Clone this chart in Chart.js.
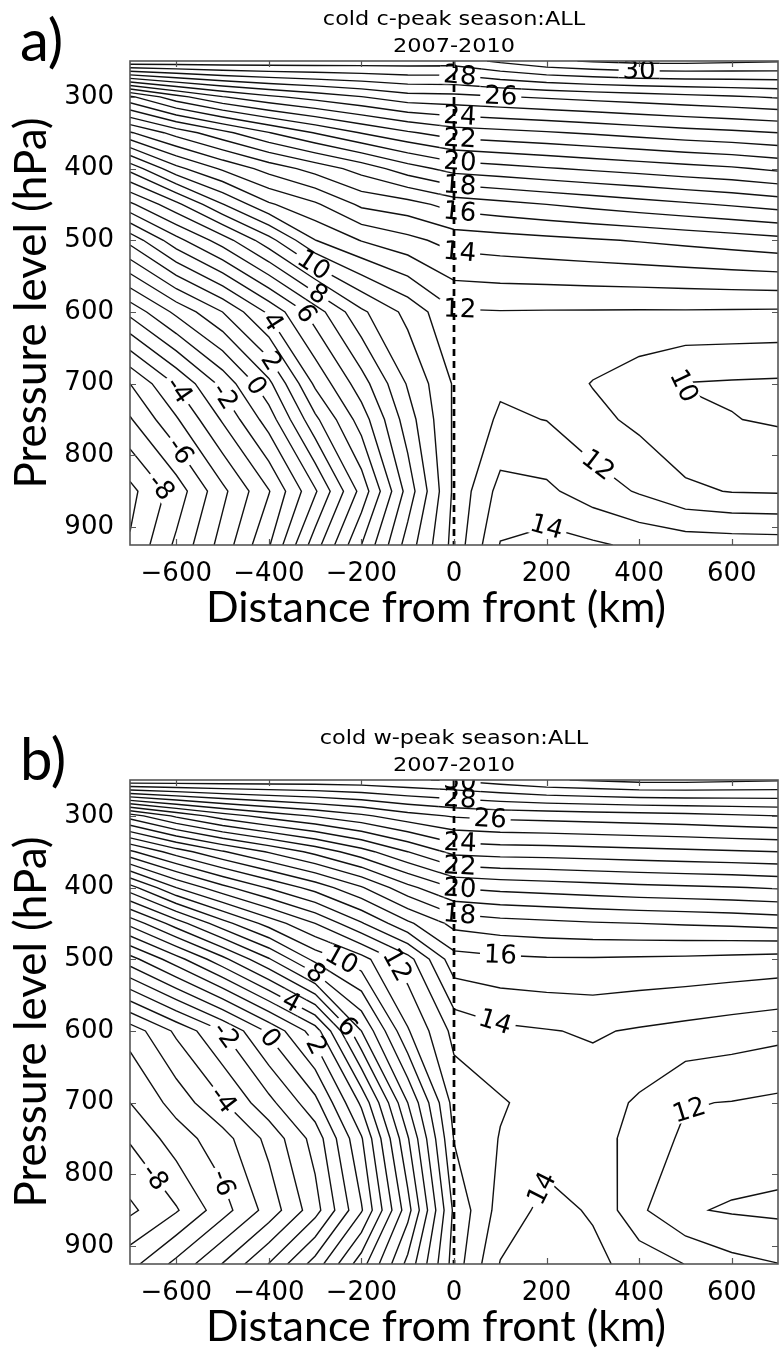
<!DOCTYPE html>
<html>
<head>
<meta charset="utf-8">
<script src="https://cdn.jsdelivr.net/npm/chart.js@4.4.1/dist/chart.umd.min.js"></script>
<style>
  html, body { margin: 0; padding: 0; background: #fff; }
  body { width: 784px; height: 1349px; position: relative; overflow: hidden; }
  .panel { position: absolute; left: 0; width: 784px; height: 700px; }
  #panelA { top: 0; }
  #panelB { top: 719px; }
</style>
</head>
<body>
<div class="panel" id="panelA"><canvas id="chartA" width="784" height="700"></canvas></div>
<div class="panel" id="panelB"><canvas id="chartB" width="784" height="700"></canvas></div>
<script>
// composite grid: distance from the front (km) and pressure levels (hPa)
const distanceKm = [-700, -600, -500, -400, -300, -200, -100, 0, 100, 200, 300, 400, 500, 600, 700];
const pressureHpa = [250, 300, 350, 400, 450, 500, 600, 700, 750, 850, 925];
const frontKm = 0;

// contour levels every 1 degree, labelled every 2
const contourLevels = [];
for (let v = -12; v <= 34; v++) contourLevels.push(v);

const xTickValues = [-600, -400, -200, 0, 200, 400, 600];
const yTickValues = [300, 400, 500, 600, 700, 800, 900];

// cold c-peak composite, one row per pressure level
const fieldA = [
  [29.9, 29.8, 29.75, 29.7, 29.65, 29.6, 29.55, 29.5, 30.2, 30.8, 31.1, 31.3, 31.3, 31.2, 31.1],
  [19.8, 21.65, 22.95, 23.8, 24.4, 24.97, 25.6, 25.7, 25.93, 26.14, 26.34, 26.52, 26.71, 26.89, 27.1],
  [14.9, 16.4, 17.7, 18.96, 20.05, 21.05, 21.86, 22.5, 22.7, 22.9, 23.13, 23.38, 23.61, 23.79, 24.0],
  [10.33, 12.7, 14.16, 15.4, 16.4, 17.4, 18.55, 19.4, 19.65, 19.92, 20.17, 20.4, 20.65, 20.86, 21.2],
  [6.78, 8.73, 10.95, 12.86, 13.84, 15.2, 15.6, 16.4, 16.7, 17.0, 17.29, 17.57, 17.84, 18.11, 18.4],
  [3.33, 5.65, 7.5, 9.63, 11.98, 13.05, 13.7, 14.4, 14.57, 14.73, 14.9, 15.07, 15.27, 15.48, 15.7],
  [-1.7, 0.25, 2.0, 4.2, 6.5, 8.8, 10.3, 11.9, 11.95, 11.93, 11.92, 11.9, 11.9, 11.88, 11.85],
  [-6.0, -3.9, -1.7, 0.75, 4.2, 6.55, 9.1, 11.1, 11.85, 11.6, 10.95, 10.45, 9.97, 9.9, 9.85],
  [-7.1, -5.12, -2.88, -0.52, 2.76, 5.48, 8.53, 11.15, 12.15, 11.98, 11.3, 10.75, 10.15, 10.03, 9.9],
  [-9.3, -7.55, -5.25, -3.06, -0.13, 3.35, 7.4, 11.2, 13.35, 13.2, 12.5, 11.9, 11.2, 10.95, 10.9],
  [-8.9, -6.8, -4.6, -2.1, 1.55, 5.0, 8.45, 11.35, 14.05, 14.4, 14.15, 13.8, 13.6, 13.55, 13.5]
];

// cold w-peak composite
const fieldB = [
  [29.9, 29.8, 29.75, 29.7, 29.65, 29.7, 29.9, 30.1, 30.5, 30.9, 31.1, 31.3, 31.3, 31.2, 31.1],
  [19.5, 21.2, 22.5, 23.4, 24.1, 24.8, 25.6, 26.1, 26.3, 26.4, 26.5, 26.6, 26.7, 26.85, 27.0],
  [13.8, 15.5, 16.9, 18.1, 19.3, 20.6, 22.0, 23.3, 23.45, 23.5, 23.6, 23.7, 23.8, 23.9, 24.0],
  [8.6, 11.0, 12.7, 14.1, 15.4, 16.9, 18.7, 20.05, 20.3, 20.45, 20.6, 20.75, 20.85, 20.95, 21.1],
  [4.3, 6.5, 8.6, 10.4, 12.0, 13.9, 15.8, 17.3, 17.6, 17.75, 17.9, 18.0, 18.1, 18.2, 18.35],
  [0.6, 2.6, 4.7, 6.9, 9.3, 10.6, 12.6, 15.6, 15.8, 15.9, 15.9, 15.85, 15.8, 15.7, 15.6],
  [-5.6, -3.8, -2.0, 0.2, 2.5, 7.0, 10.9, 13.3, 13.8, 13.95, 14.1, 13.9, 13.7, 13.5, 13.3],
  [-7.0, -5.6, -4.1, -2.3, -0.3, 3.2, 8.0, 12.4, 12.9, 13.4, 13.5, 12.85, 12.05, 11.97, 11.8],
  [-7.9, -6.5, -5.4, -3.7, -1.6, 1.9, 6.9, 12.05, 13.05, 13.6, 13.55, 12.5, 11.85, 11.6, 11.5],
  [-9.2, -8.1, -6.4, -4.6, -2.4, 0.9, 5.6, 11.2, 13.4, 14.3, 13.9, 12.2, 11.1, 10.9, 10.8],
  [-7.35, -5.72, -3.96, -1.96, 0.42, 3.57, 7.3, 11.44, 14.05, 14.6, 14.25, 13.62, 12.98, 12.3, 12.02]
];

// inline label anchors: [level, km, hPa]
const labelSpotsA = [
  [30, 400, 265], [28, 13, 268], [26, 101, 300], [24, 13, 325], [22, 13, 358], [20, 13, 390],
  [18, 13, 422], [16, 13, 457], [14, 13, 511], [12, 13, 588],
  [10, -290, 522], [8, -289, 571], [6, -322, 603], [4, -395, 615], [2, -393, 668], [0, -421, 700],
  [-2, -501, 720], [-4, -596, 710], [-6, -596, 796], [-8, -646, 851],
  [10, 490, 705], [12, 307, 817], [14, 200, 897]
];
const labelSpotsB = [
  [30, 13, 253], [28, 13, 272], [26, 78, 304], [24, 13, 339], [22, 13, 368], [20, 13, 399],
  [18, 13, 432], [16, 100, 499], [14, 95, 575], [12, -117, 506], [10, -235, 492], [8, -298, 519],
  [6, -229, 593], [4, -376, 589], [2, -294, 619], [0, -397, 610], [-2, -495, 607], [-4, -484, 689],
  [-6, -495, 811], [-8, -646, 804], [14, 197, 822], [12, 505, 704]
];

// marching squares over the grid, one level at a time
function contourSegments(field, level) {
  const segs = [];
  const cross = (key, x0, y0, v0, x1, y1, v1) => {
    const t = (level - v0) / (v1 - v0);
    return { key, x: x0 + t * (x1 - x0), y: y0 + t * (y1 - y0) };
  };
  for (let i = 0; i < pressureHpa.length - 1; i++) {
    for (let j = 0; j < distanceKm.length - 1; j++) {
      const xa = distanceKm[j], xb = distanceKm[j + 1];
      const ya = pressureHpa[i], yb = pressureHpa[i + 1];
      const A = field[i][j], B = field[i][j + 1], C = field[i + 1][j + 1], D = field[i + 1][j];
      const up = [A, B, C, D].map(v => v >= level);
      const e = [null, null, null, null];
      if (up[0] !== up[1]) e[0] = cross('h' + i + '_' + j, xa, ya, A, xb, ya, B);
      if (up[1] !== up[2]) e[1] = cross('v' + i + '_' + (j + 1), xb, ya, B, xb, yb, C);
      if (up[2] !== up[3]) e[2] = cross('h' + (i + 1) + '_' + j, xb, yb, C, xa, yb, D);
      if (up[3] !== up[0]) e[3] = cross('v' + i + '_' + j, xa, yb, D, xa, ya, A);
      const hit = e.filter(Boolean);
      if (hit.length === 2) {
        segs.push(hit);
      } else if (hit.length === 4) {
        const centreUp = (A + B + C + D) / 4 >= level;
        if (centreUp === up[0]) { segs.push([e[0], e[1]], [e[2], e[3]]); }
        else { segs.push([e[3], e[0]], [e[1], e[2]]); }
      }
    }
  }
  return segs;
}

// join cell segments into polylines through shared edge crossings
function joinSegments(segs) {
  const byKey = new Map();
  segs.forEach((s, k) => s.forEach(p => {
    if (!byKey.has(p.key)) byKey.set(p.key, []);
    byKey.get(p.key).push(k);
  }));
  const used = new Array(segs.length).fill(false);
  const extend = (line, key) => {
    for (;;) {
      const next = (byKey.get(key) || []).find(k => !used[k]);
      if (next === undefined) return;
      used[next] = true;
      const other = segs[next][0].key === key ? segs[next][1] : segs[next][0];
      line.push(other);
      key = other.key;
    }
  };
  const lines = [];
  segs.forEach((s, k) => {
    if (used[k]) return;
    used[k] = true;
    const fwd = [s[0], s[1]];
    extend(fwd, s[1].key);
    const back = [];
    extend(back, s[0].key);
    lines.push(back.reverse().concat(fwd));
  });
  return lines;
}

function contourDatasets(field) {
  const sets = [];
  contourLevels.forEach(level => {
    const lines = joinSegments(contourSegments(field, level));
    if (!lines.length) return;
    const data = [];
    lines.forEach(line => {
      line.forEach(p => data.push({ x: p.x, y: p.y }));
      data.push({ x: line[line.length - 1].x, y: null });
    });
    sets.push({
      level, data, showLine: true, spanGaps: false,
      borderColor: '#111', borderWidth: 1.4, pointRadius: 0, fill: false
    });
  });
  sets.push({
    level: null, front: true,
    data: [{ x: frontKm, y: pressureHpa[0] }, { x: frontKm, y: pressureHpa[pressureHpa.length - 1] }],
    showLine: true, borderColor: '#000', borderWidth: 2.4, borderDash: [7, 5], pointRadius: 0
  });
  return sets;
}

const minusFmt = v => (v < 0 ? '\u2212' + Math.abs(v) : String(v));

// inline contour labels, frame, inward ticks and the annotation text
const contourDecor = {
  id: 'contourDecor',
  afterDatasetsDraw(chart, args, opts) {
    const { ctx, chartArea: area, scales: { x, y } } = chart;
    const metas = chart.data.datasets.map((d, i) => chart.getDatasetMeta(i));
    const frontIdx = chart.data.datasets.findIndex(d => d.front);
    ctx.save();
    ctx.beginPath();
    ctx.rect(area.left, area.top, area.width, area.height);
    ctx.clip();
    ctx.font = '26px "DejaVu Sans"';
    opts.spots.forEach(([value, km, hpa]) => {
      const idx = chart.data.datasets.findIndex(d => d.level === value);
      if (idx < 0) return;
      const pts = metas[idx].data;
      const tx = x.getPixelForValue(km), ty = y.getPixelForValue(hpa);
      let best = null;
      for (let k = 0; k < pts.length - 1; k++) {
        const a = pts[k], b = pts[k + 1];
        if (a.skip || b.skip) continue;
        const dx = b.x - a.x, dy = b.y - a.y;
        const len2 = dx * dx + dy * dy || 1;
        const t = Math.max(0, Math.min(1, ((tx - a.x) * dx + (ty - a.y) * dy) / len2));
        const px = a.x + t * dx, py = a.y + t * dy;
        const d2 = (px - tx) ** 2 + (py - ty) ** 2;
        if (!best || d2 < best.d2) best = { d2, px, py, ang: Math.atan2(dy, dx) };
      }
      if (!best) return;
      let ang = best.ang;
      if (ang > Math.PI / 2) ang -= Math.PI;
      if (ang < -Math.PI / 2) ang += Math.PI;
      const text = String(value);
      const w = ctx.measureText(text).width + 8, h = 20;
      // cut the labelled line only, keep the neighbours
      ctx.save();
      ctx.translate(best.px, best.py);
      ctx.rotate(ang);
      ctx.beginPath();
      ctx.rect(-w / 2, -h / 2, w, h);
      ctx.fillStyle = '#fff';
      ctx.fill();
      ctx.clip();
      ctx.rotate(-ang);
      ctx.translate(-best.px, -best.py);
      metas.forEach((m, i) => { if (i !== idx && m.dataset) m.dataset.draw(ctx, area); });
      ctx.restore();
      ctx.save();
      ctx.translate(best.px, best.py);
      ctx.rotate(ang);
      ctx.fillStyle = '#000';
      ctx.textAlign = 'center';
      ctx.textBaseline = 'middle';
      ctx.fillText(text, 0, 1);
      ctx.restore();
    });
    if (frontIdx >= 0) metas[frontIdx].dataset.draw(ctx, area);
    ctx.restore();

    // frame and inward ticks on all four sides
    ctx.save();
    ctx.strokeStyle = '#555';
    ctx.lineWidth = 1.2;
    const tl = 6;
    ctx.beginPath();
    xTickValues.forEach(v => {
      const px = Math.round(x.getPixelForValue(v)) + 0.5;
      ctx.moveTo(px, area.bottom); ctx.lineTo(px, area.bottom - tl);
      ctx.moveTo(px, area.top); ctx.lineTo(px, area.top + tl);
    });
    yTickValues.forEach(v => {
      const py = Math.round(y.getPixelForValue(v)) + 0.5;
      ctx.moveTo(area.left, py); ctx.lineTo(area.left + tl, py);
      ctx.moveTo(area.right, py); ctx.lineTo(area.right - tl, py);
    });
    ctx.stroke();
    ctx.lineWidth = 1.6;
    ctx.strokeRect(area.left, area.top, area.width, area.height);
    ctx.restore();
  },
  afterDraw(chart, args, opts) {
    const { ctx, chartArea: area } = chart;
    const cx = (area.left + area.right) / 2;
    ctx.save();
    ctx.fillStyle = '#000';
    ctx.textAlign = 'center';
    ctx.textBaseline = 'middle';
    ctx.font = '20px "DejaVu Sans"';
    // title text is a little wider than the font's natural proportions
    [[opts.title[0], 20], [opts.title[1], 47]].forEach(([t, ty]) => {
      ctx.save();
      ctx.translate(cx, ty);
      ctx.scale(1.12, 1);
      ctx.fillText(t, 0, 0);
      ctx.restore();
    });
    ctx.textBaseline = 'alphabetic';
    ctx.font = '43px Lato';
    ctx.fillText('Distance from front (km)', 436, 622);
    ctx.save();
    ctx.translate(46, (area.top + area.bottom) / 2);
    ctx.rotate(-Math.PI / 2);
    ctx.font = '44px Lato';
    ctx.fillText('Pressure level (hPa)', 0, 0);
    ctx.restore();
    ctx.textAlign = 'left';
    ctx.textBaseline = 'middle';
    ctx.font = '58px Lato';
    ctx.fillText(opts.letter, 20, 42);
    ctx.restore();
  }
};

function buildPanel(canvasId, field, spots, title, letter) {
  return new Chart(document.getElementById(canvasId), {
    type: 'scatter',
    data: { datasets: contourDatasets(field) },
    plugins: [contourDecor],
    options: {
      responsive: false,
      animation: false,
      devicePixelRatio: 1,
      layout: { padding: { top: 61, right: 6, left: 0, bottom: 0 } },
      plugins: {
        legend: { display: false },
        tooltip: { enabled: false },
        contourDecor: { spots, title, letter }
      },
      scales: {
        x: {
          type: 'linear', min: -700, max: 700,
          afterBuildTicks: s => { s.ticks = xTickValues.map(value => ({ value })); },
          afterFit: s => { s.height = 155; },
          grid: { display: false }, border: { display: false },
          ticks: { font: { family: 'DejaVu Sans', size: 26 }, color: '#000', padding: 6,
                   maxRotation: 0, autoSkip: false, callback: minusFmt }
        },
        y: {
          type: 'linear', reverse: true, min: 250, max: 925,
          afterBuildTicks: s => { s.ticks = yTickValues.map(value => ({ value })); },
          afterFit: s => { s.width = 130; },
          grid: { display: false }, border: { display: false },
          ticks: { font: { family: 'DejaVu Sans', size: 26 }, color: '#000', padding: 8,
                   autoSkip: false, callback: minusFmt }
        }
      }
    }
  });
}

buildPanel('chartA', fieldA, labelSpotsA, ['cold c-peak season:ALL', '2007-2010'], 'a)');
buildPanel('chartB', fieldB, labelSpotsB, ['cold w-peak season:ALL', '2007-2010'], 'b)');
</script>
</body>
</html>
